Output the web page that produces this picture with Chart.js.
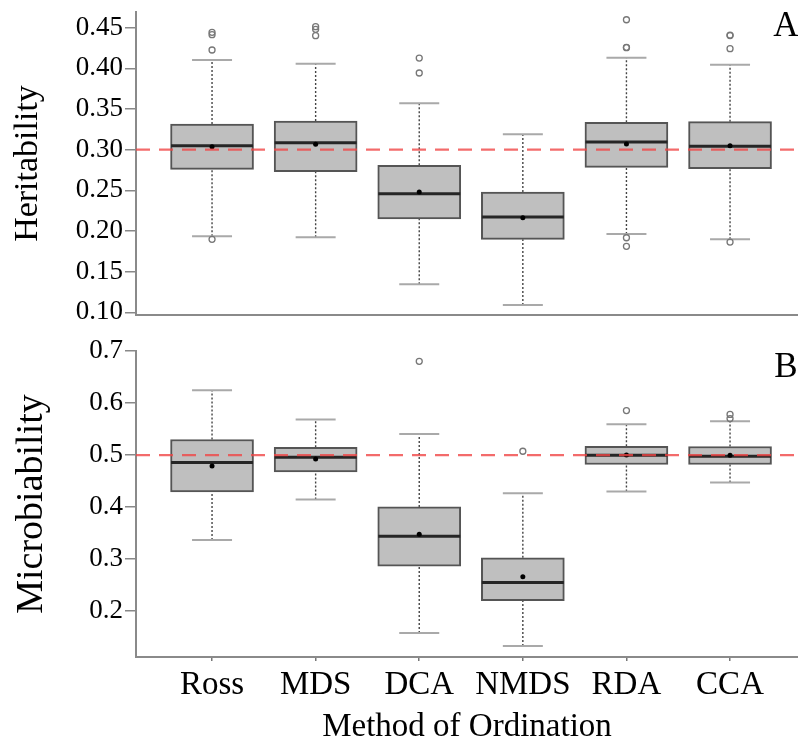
<!DOCTYPE html>
<html>
<head>
<meta charset="utf-8">
<script src="https://cdn.jsdelivr.net/npm/chart.js@4.4.1/dist/chart.umd.min.js"></script>
<style>
  body { margin: 0; background: #fff; }
  #wrap { position: relative; width: 798px; height: 742px; }
  canvas { position: absolute; left: 0; }
  #heritChart { top: 0; }
  #microChart { top: 330px; }
</style>
</head>
<body>
<div id="wrap">
  <canvas id="heritChart" width="798" height="330"></canvas>
  <canvas id="microChart" width="798" height="412"></canvas>
</div>
<script>
// categories
const methods = ['Ross', 'MDS', 'DCA', 'NMDS', 'RDA', 'CCA'];

// panel A - heritability
const hLow  = [0.1934, 0.1922, 0.1344, 0.1089, 0.1962, 0.1897];
const hQ1   = [0.2758, 0.2729, 0.2147, 0.1897, 0.2783, 0.2766];
const hMed  = [0.3049, 0.3085, 0.2458, 0.2172, 0.3094, 0.3041];
const hQ3   = [0.3316, 0.3352, 0.2807, 0.2479, 0.3336, 0.3344];
const hHigh = [0.4103, 0.4057, 0.3570, 0.3189, 0.4131, 0.4045];
const hMean = [0.3036, 0.3066, 0.2479, 0.2163, 0.3069, 0.3049];
const hOut  = [[0.1897, 0.4226, 0.4414, 0.4443], [0.4402, 0.4480, 0.4512], [0.3943, 0.4127], [],
               [0.1811, 0.1917, 0.4254, 0.4258, 0.4598], [0.1864, 0.4242, 0.4403, 0.4409]];
const hTicks = [0.10, 0.15, 0.20, 0.25, 0.30, 0.35, 0.40, 0.45];
const hRef = 0.30;

// panel B - microbiability
const mLow  = [0.3364, 0.4146, 0.1577, 0.1328, 0.4300, 0.4472];
const mQ1   = [0.4292, 0.4676, 0.2864, 0.2198, 0.4818, 0.4818];
const mMed  = [0.4856, 0.4958, 0.3440, 0.2551, 0.4996, 0.4977];
const mQ3   = [0.5298, 0.5150, 0.4003, 0.3024, 0.5169, 0.5164];
const mHigh = [0.6245, 0.5682, 0.5406, 0.4267, 0.5592, 0.5650];
const mMean = [0.4791, 0.4926, 0.3479, 0.2659, 0.5002, 0.4997];
const mOut  = [[], [], [0.6802], [0.5073], [0.5855], [0.5701, 0.5780]];
const mTicks = [0.2, 0.3, 0.4, 0.5, 0.6, 0.7];
const mRef = 0.50;

Chart.defaults.font.family = '"Liberation Serif", "Times New Roman", serif';
Chart.defaults.color = '#000';

const X_MIN = 0.266, X_MAX = 6.656;
const xs = methods.map((m, i) => i + 1);

const panelLetter = {
  id: 'panelLetter',
  afterDraw(chart, args, opts) {
    const ctx = chart.ctx;
    ctx.save();
    ctx.font = '35px "Liberation Serif", serif';
    ctx.fillStyle = '#000';
    ctx.textAlign = 'center';
    ctx.textBaseline = 'alphabetic';
    ctx.fillText(opts.text, 786, opts.y);
    ctx.restore();
  }
};

function panelConfig(p) {
  const whiskers = [];
  const caps = [];
  const outliers = [];
  xs.forEach((x, i) => {
    whiskers.push({x: x, y: p.low[i]}, {x: x, y: p.q1[i]}, {x: x, y: null},
                  {x: x, y: p.q3[i]}, {x: x, y: p.high[i]}, {x: x, y: null});
    caps.push({x: x, y: p.low[i]}, {x: x, y: p.high[i]});
    p.out[i].forEach(v => outliers.push({x: x, y: v}));
  });

  return {
    type: 'bar',
    data: {
      datasets: [
        {
          type: 'line', order: 6,
          data: whiskers,
          borderColor: '#444', borderWidth: 1.4, borderDash: [2, 2],
          pointRadius: 0, spanGaps: false
        },
        {
          type: 'scatter', order: 5,
          data: caps,
          pointStyle: 'line', pointRadius: 20,
          pointBorderColor: '#a9a9a9', pointBorderWidth: 2
        },
        {
          type: 'bar', order: 4,
          data: xs.map((x, i) => ({x: x, y: [p.q1[i], p.q3[i]]})),
          backgroundColor: '#bfbfbf', borderColor: '#555', borderWidth: 2,
          borderSkipped: false, barThickness: 83
        },
        {
          type: 'scatter', order: 3,
          data: xs.map((x, i) => ({x: x, y: p.med[i]})),
          pointStyle: 'line', pointRadius: 41,
          pointBorderColor: '#262626', pointBorderWidth: 3
        },
        {
          type: 'scatter', order: 2,
          data: xs.map((x, i) => ({x: x, y: p.mean[i]})),
          pointStyle: 'circle', pointRadius: 2.5,
          pointBackgroundColor: '#000', pointBorderColor: '#000', pointBorderWidth: 0
        },
        {
          type: 'scatter', order: 1,
          data: outliers,
          pointStyle: 'circle', pointRadius: 3,
          pointBackgroundColor: 'rgba(255,255,255,0)', pointBorderColor: '#777', pointBorderWidth: 1.3
        },
        {
          type: 'line', order: 0,
          data: [{x: X_MIN, y: p.ref}, {x: X_MAX, y: p.ref}],
          borderColor: 'rgba(240,70,70,0.8)', borderWidth: 2.2, borderDash: [14, 9],
          pointRadius: 0
        }
      ]
    },
    plugins: [panelLetter],
    options: {
      responsive: false,
      animation: false,
      events: [],
      layout: { autoPadding: false, padding: { top: p.padTop, left: 0, right: 0, bottom: 0 } },
      plugins: {
        legend: { display: false },
        tooltip: { enabled: false },
        panelLetter: { text: p.letter, y: p.letterY }
      },
      scales: {
        x: {
          type: 'linear', min: X_MIN, max: X_MAX, offset: false,
          afterBuildTicks: s => { s.ticks = xs.map(v => ({value: v})); },
          afterFit: s => { s.height = p.xHeight; },
          border: { display: true, color: '#8a8a8a', width: 2 },
          grid: { display: true, offset: false, drawOnChartArea: false, drawTicks: p.showX, tickLength: 4, color: '#777', lineWidth: 1.5 },
          ticks: {
            display: p.showX, maxRotation: 0, autoSkip: false, padding: 5,
            font: { size: 33 },
            callback: v => methods[Math.round(v) - 1]
          },
          title: {
            display: p.showX, text: 'Method of Ordination',
            font: { size: 33, lineHeight: 0.9 }, padding: { top: 0, bottom: 0 }
          }
        },
        y: {
          min: p.yMin, max: p.yMax,
          afterBuildTicks: s => { s.ticks = p.ticks.map(v => ({value: v})); },
          afterFit: s => { s.width = 136; },
          border: { display: true, color: '#8a8a8a', width: 2 },
          grid: { drawOnChartArea: false, drawTicks: true, tickLength: 11, color: '#888', lineWidth: 1.5 },
          ticks: {
            padding: 2,
            font: { size: 27, lineHeight: 0.6 },
            callback: v => v.toFixed(p.dec)
          },
          title: {
            display: true, text: p.title,
            font: { size: p.titleSize, lineHeight: 1 }, padding: { top: p.titlePad, bottom: 0 }
          }
        }
      }
    }
  };
}

const heritChart = new Chart(document.getElementById('heritChart'), panelConfig({
  low: hLow, q1: hQ1, med: hMed, q3: hQ3, high: hHigh, mean: hMean, out: hOut,
  ticks: hTicks, ref: hRef, dec: 2, yMin: 0.0967, yMax: 0.4693,
  title: 'Heritability', titleSize: 34, titlePad: 11,
  padTop: 12, xHeight: 15, showX: false, letter: 'A', letterY: 36
}));

const microChart = new Chart(document.getElementById('microChart'), panelConfig({
  low: mLow, q1: mQ1, med: mMed, q3: mQ3, high: mHigh, mean: mMean, out: mOut,
  ticks: mTicks, ref: mRef, dec: 1, yMin: 0.1117, yMax: 0.7,
  title: 'Microbiability', titleSize: 38, titlePad: 13,
  padTop: 21, xHeight: 85, showX: true, letter: 'B', letterY: 47
}));
</script>
</body>
</html>
